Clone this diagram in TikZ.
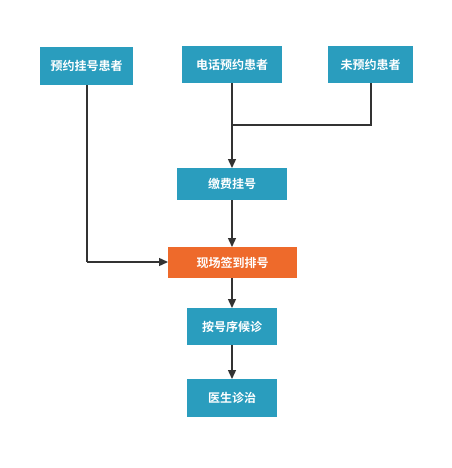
\documentclass[tikz,border=0pt]{standalone}
\usepackage{fontspec}
\newfontfamily\cjk{Noto Sans CJK SC Bold}
\usetikzlibrary{arrows.meta}
\definecolor{teal1}{HTML}{2A9DBE}
\definecolor{orange1}{HTML}{EE6A2B}
\definecolor{line1}{HTML}{333333}
\tikzset{
  box/.style={fill=teal1, text=white, font=\cjk\fontsize{12}{14}\selectfont, inner sep=0pt, anchor=north west},
  hot/.style={box, fill=orange1},
  conn/.style={draw=line1, line width=1.4pt},
  arr/.style={conn, -{Triangle[length=9pt,width=8pt]}}
}
\begin{document}
\begin{tikzpicture}[x=1pt,y=-1pt]
\useasboundingbox[fill=white] (0,0) rectangle (451,468);
\node[box, minimum width=93pt, minimum height=38pt] (a) at (40,47) {预约挂号患者};
\node[box, minimum width=100pt, minimum height=37pt] (b) at (182,46) {电话预约患者};
\node[box, minimum width=85pt, minimum height=37pt] (c) at (328,46) {未预约患者};
\node[box, minimum width=110pt, minimum height=32pt] (d) at (177,168) {缴费挂号};
\node[hot, minimum width=129pt, minimum height=31pt] (e) at (168,247) {现场签到排号};
\node[box, minimum width=90pt, minimum height=37pt] (f) at (187,308) {按号序候诊};
\node[box, minimum width=90pt, minimum height=38pt] (g) at (187,379) {医生诊治};
\coordinate (cb) at (371,125);
\coordinate (ab) at (87,262);
\draw[conn] (c.south -| cb) -- (cb) -- (cb -| b.south);
\draw[arr] (b.south -| 232,0) -- (d.north -| 232,0);
\draw[arr] (d.south -| 232,0) -- (e.north -| 232,0);
\draw[conn] (a.south -| ab) -- (ab);
\draw[arr] (ab) -- (ab -| e.west);
\draw[arr] (e.south -| 232,0) -- (f.north -| 232,0);
\draw[arr] (f.south -| 232,0) -- (g.north -| 232,0);
\end{tikzpicture}
\end{document}
